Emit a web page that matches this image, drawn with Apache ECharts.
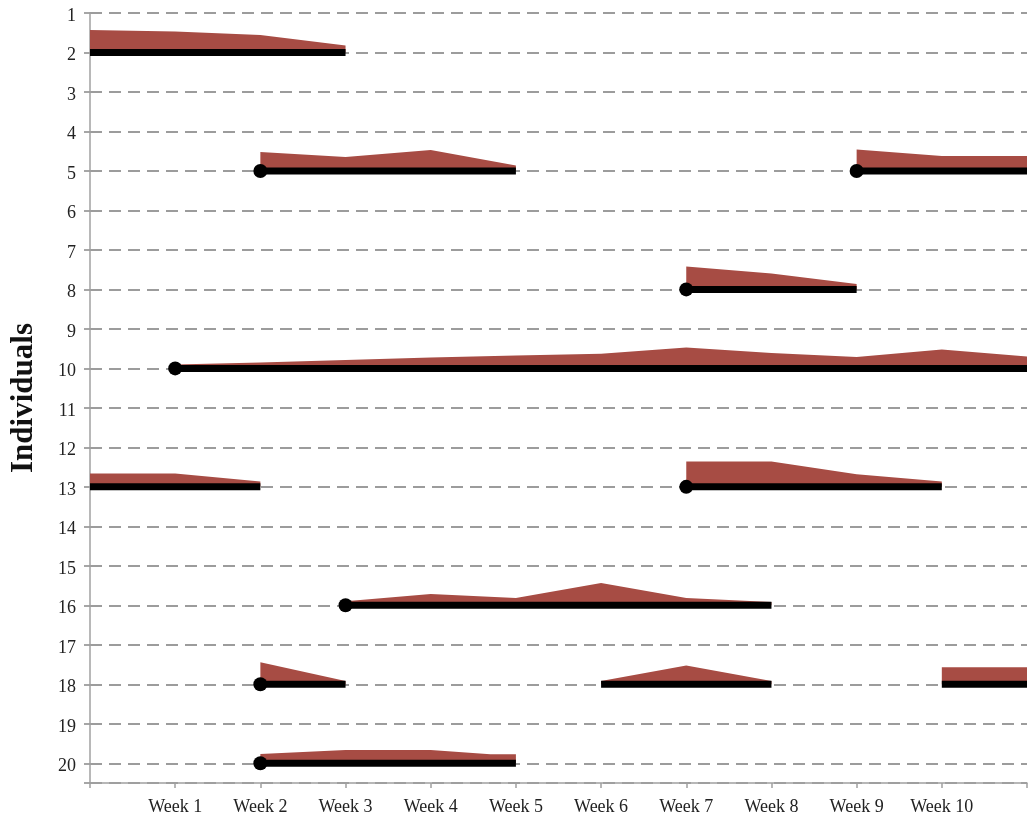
<!DOCTYPE html>
<html>
<head>
<meta charset="utf-8">
<script src="https://cdn.jsdelivr.net/npm/echarts@6/dist/echarts.min.js"></script>
<style>
html,body{margin:0;padding:0;background:#fff;}
#chart{width:1028px;height:818px;}
</style>
</head>
<body>
<div id="chart"></div>
<script>
// Individuals shown on the y axis
const individualTicks = [1,2,3,4,5,6,7,8,9,10,11,12,13,14,15,16,17,18,19,20];
// Week labels on the x axis (0 and 11 unlabeled)
const weekLabels = ['', 'Week 1','Week 2','Week 3','Week 4','Week 5','Week 6','Week 7','Week 8','Week 9','Week 10',''];

// Observation segments
const segIndividual = [2, 5, 5, 8, 10, 13, 13, 16, 18, 18, 18, 20];
const segStartDot  = [false, true, true, true, true, false, true, true, true, false, false, true];
const segWeeks = [
  [0,1,2,3],
  [2,3,4,5],
  [9,10,11],
  [7,8,9],
  [1,2,3,4,5,6,7,8,9,10,11],
  [0,1,2],
  [7,8,9,10],
  [3,4,5,6,7,8],
  [2,3],
  [6,7,8],
  [10,11],
  [2,3,4,4.7,5]
];
// Level (intensity) per week, drawn above each segment
const segLevels = [
  [22.5, 21, 17.5, 7],
  [19, 14, 21, 5.5],
  [21.5, 15, 15],
  [23, 16, 5.5],
  [4, 6, 8.5, 11, 13, 14.7, 21, 15.3, 11.3, 19, 12],
  [13.3, 13.3, 5.3],
  [25.3, 25.3, 12.7, 5.3],
  [4, 11.3, 7.3, 22.3, 7.3, 3.3],
  [22, 3.3],
  [3.3, 18.7, 3.3],
  [17, 17],
  [9.3, 13.3, 13.3, 9, 9]
];

const LEVEL_UNIT = 1 / 39.47; // rows per level unit
const RED = '#a74c44';
const FONT = "'Liberation Serif', 'DejaVu Serif', serif";

const segData = segIndividual.map((ind, i) => [segWeeks[i][0], ind, i]);
const dotData = [];
segIndividual.forEach((ind, i) => { if (segStartDot[i]) dotData.push([segWeeks[i][0], ind]); });

const chart = echarts.init(document.getElementById('chart'), null, {renderer: 'canvas'});
chart.setOption({
  animation: false,
  backgroundColor: '#fff',
  grid: {left: 90, right: 1, top: 13, bottom: 35, containLabel: false, outerBoundsMode: 'none'},
  xAxis: {
    type: 'value', min: 0, max: 11, interval: 1,
    axisLine: {show: true, lineStyle: {color: '#a0a0a0', width: 1.5}},
    axisTick: {show: true, length: 5, lineStyle: {color: '#a0a0a0', width: 1.5}},
    splitLine: {show: false},
    axisLabel: {
      margin: 15, fontFamily: FONT, fontSize: 18, color: '#222',
      showMinLabel: true, showMaxLabel: true,
      formatter: v => weekLabels[Math.round(v)] || ''
    }
  },
  yAxis: {
    type: 'value', inverse: true, min: 1, max: 20.5, interval: 1,
    name: 'Individuals', nameLocation: 'middle', nameGap: 51, nameRotate: 90,
    nameTextStyle: {fontFamily: FONT, fontSize: 31, fontWeight: 'bold', color: '#111'},
    axisLine: {show: true, lineStyle: {color: '#a0a0a0', width: 1.5}},
    axisTick: {show: true, length: 6, lineStyle: {color: '#9c9c9c', width: 1.8}},
    splitLine: {show: true, lineStyle: {color: '#9c9c9c', width: 1.8, type: [12, 7]}},
    axisLabel: {
      margin: 14, fontFamily: FONT, fontSize: 18, color: '#222',
      verticalAlign: 'top', lineHeight: 6,
      formatter: v => (individualTicks.indexOf(v) >= 0 ? String(v) : '')
    }
  },
  series: [
    {
      type: 'custom', z: 2,
      data: segData,
      encode: {x: 0, y: 1},
      renderItem: function (params, api) {
        const i = api.value(2);
        const ind = segIndividual[i];
        const w = segWeeks[i], lv = segLevels[i];
        const pts = w.map((wk, k) => api.coord([wk, ind - lv[k] * LEVEL_UNIT]));
        pts.push(api.coord([w[w.length - 1], ind]));
        pts.push(api.coord([w[0], ind]));
        return {type: 'polygon', shape: {points: pts}, style: {fill: RED}};
      }
    },
    {
      type: 'custom', z: 3,
      data: segData,
      encode: {x: 0, y: 1},
      renderItem: function (params, api) {
        const i = api.value(2);
        const ind = segIndividual[i];
        const w = segWeeks[i];
        const p1 = api.coord([w[0], ind]);
        const p2 = api.coord([w[w.length - 1], ind]);
        return {type: 'line', shape: {x1: p1[0], y1: p1[1], x2: p2[0], y2: p2[1]},
                style: {stroke: '#000', lineWidth: 7, lineCap: 'butt'}};
      }
    },
    {
      type: 'scatter', z: 4,
      data: dotData,
      symbol: 'circle', symbolSize: 14,
      itemStyle: {color: '#000', opacity: 1}
    }
  ]
});
</script>
</body>
</html>
